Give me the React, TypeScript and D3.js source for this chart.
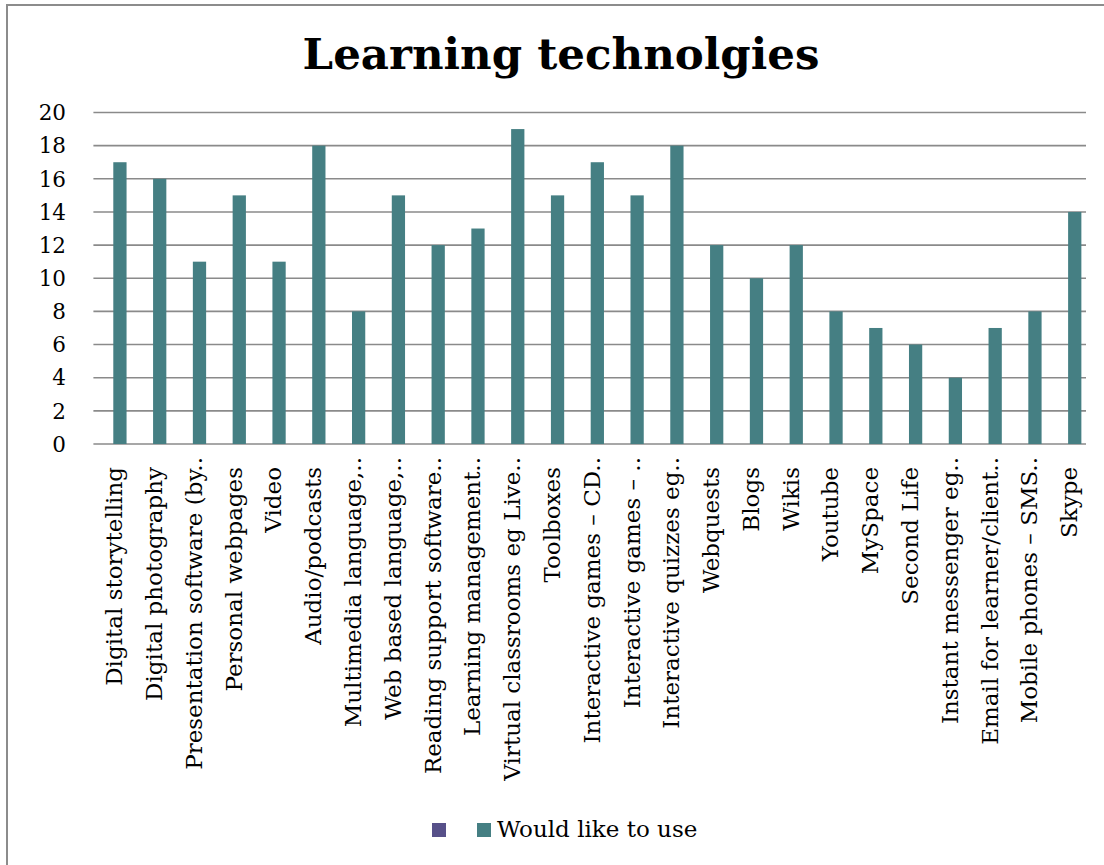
import React from "react";
import * as d3 from "d3";

const categories: string[] = [
  "Digital storytelling",
  "Digital photography",
  "Presentation software (by..",
  "Personal webpages",
  "Video",
  "Audio/podcasts",
  "Multimedia language,..",
  "Web based language,..",
  "Reading support software..",
  "Learning management..",
  "Virtual classrooms eg Live..",
  "Toolboxes",
  "Interactive games – CD..",
  "Interactive games – ..",
  "Interactive quizzes eg..",
  "Webquests",
  "Blogs",
  "Wikis",
  "Youtube",
  "MySpace",
  "Second Life",
  "Instant messenger eg..",
  "Email for learner/client..",
  "Mobile phones – SMS..",
  "Skype",
];

const wouldLikeToUse: number[] = [
  17, 16, 11, 15, 11, 18, 8, 15, 12, 13, 19, 15, 17, 15, 18, 12, 10, 12, 8, 7, 6, 4, 7, 8, 14,
];

const seriesNames: string[] = ["", "Would like to use"];
const yTicks: number[] = [0, 2, 4, 6, 8, 10, 12, 14, 16, 18, 20];

const W = 1104;
const H = 865;
const plot = { left: 93.4, right: 1088, top: 112.5, bottom: 444 };
const FONT = "'DejaVu Serif', serif";
const TEAL = "#457f83";
const PURPLE = "#575089";

export default function App() {
  const x = d3
    .scaleBand<string>()
    .domain(categories)
    .range([plot.left, plot.right])
    .paddingInner(0)
    .paddingOuter(0);
  const inner = d3
    .scaleBand<string>()
    .domain(seriesNames.map((_, i) => String(i)))
    .range([0, x.bandwidth()])
    .paddingInner(0)
    .paddingOuter(0.5);
  const y = d3.scaleLinear().domain([0, 20]).range([plot.bottom, plot.top]);
  const bw = inner.bandwidth();

  return (
    <div style={{ position: "absolute", left: 0, top: 0 }}>
      <svg width={W} height={H} style={{ display: "block", background: "#fff" }}>
        <rect x={7} y={5} width={W} height={H} fill="#fff" stroke="#8c8c8c" strokeWidth={2} />
        <text
          x={561}
          y={69}
          textAnchor="middle"
          fontFamily={FONT}
          fontWeight="bold"
          fontSize={43.5}
          fill="#000"
        >
          Learning technolgies
        </text>
        {yTicks.map((t) => (
          <g key={t}>
            <line
              x1={plot.left}
              x2={plot.right - 2}
              y1={y(t)}
              y2={y(t)}
              stroke="#8a8a8a"
              strokeWidth={1.6}
            />
            <text
              x={66}
              y={y(t)}
              dy="0.36em"
              textAnchor="end"
              fontFamily={FONT}
              fontSize={21.5}
              fill="#000"
            >
              {t}
            </text>
          </g>
        ))}
        {categories.map((c, i) => (
          <rect
            key={c}
            x={(x(c) as number) + (inner("1") as number)}
            y={y(wouldLikeToUse[i])}
            width={bw}
            height={y(0) - y(wouldLikeToUse[i])}
            fill={TEAL}
          />
        ))}
        {categories.map((c) => {
          const cx = (x(c) as number) + x.bandwidth() / 2;
          const truncated = c.endsWith("..");
          const yy = truncated ? 457 : 467;
          return (
            <text
              key={"l" + c}
              transform={`translate(${cx + 1},${yy}) rotate(-90)`}
              textAnchor="end"
              dy="0.35em"
              fontFamily={FONT}
              fontSize={23}
              fill="#000"
            >
              {c}
            </text>
          );
        })}
        <rect x={432} y={823} width={14} height={14} fill={PURPLE} />
        <rect x={477} y={823} width={14} height={14} fill={TEAL} />
        <text x={497} y={837} fontFamily={FONT} fontSize={23} fill="#000">
          {seriesNames[1]}
        </text>
      </svg>
    </div>
  );
}
